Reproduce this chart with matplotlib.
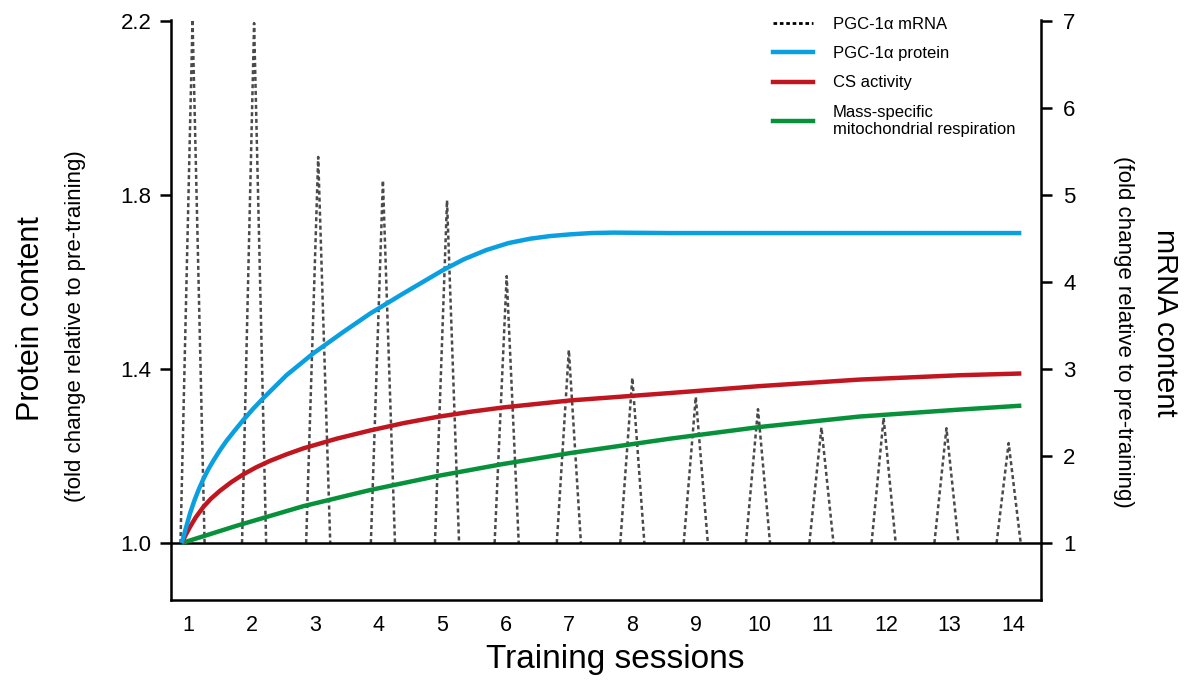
import matplotlib
matplotlib.use("Agg")
import matplotlib.pyplot as plt
from matplotlib.lines import Line2D

plt.rcParams["font.family"] = ["Liberation Sans", "DejaVu Sans"]

# sessions on the x axis
sessions = list(range(1, 15))

# PGC-1a mRNA spikes (right axis, fold change)
mrna_peak_x = [1.07, 2.04, 3.05, 4.07, 5.08, 6.02, 7.0, 8.0, 9.0, 9.98, 10.98, 11.96, 12.95, 13.93]
mrna_peak = [7.02, 6.98, 5.44, 5.17, 4.94, 4.07, 3.22, 2.90, 2.68, 2.54, 2.33, 2.44, 2.32, 2.15]
mrna_half_width = 0.19

# protein curves (left axis, fold change)
protein_x = [0.90, 0.97, 1.03, 1.10, 1.17, 1.24, 1.32, 1.40, 1.50, 1.60, 1.73, 1.87, 2.02,
             2.19, 2.55, 2.97, 3.45, 3.87, 4.39, 5.02, 5.35, 5.70, 6.05, 6.39, 6.70, 7.02,
             7.35, 7.70, 8.59, 14.13]
protein_y = [1.000, 1.037, 1.068, 1.098, 1.124, 1.147, 1.170, 1.190, 1.213, 1.234, 1.258,
             1.283, 1.308, 1.334, 1.386, 1.436, 1.486, 1.528, 1.574, 1.628, 1.653, 1.674,
             1.690, 1.700, 1.706, 1.710, 1.713, 1.714, 1.713, 1.713]

cs_x = [0.90, 0.96, 1.03, 1.12, 1.24, 1.36, 1.50, 1.68, 1.87, 2.07, 2.29, 2.55, 2.82, 3.34,
        3.87, 4.40, 4.92, 5.45, 5.97, 7.02, 8.59, 10.01, 11.58, 13.16, 14.13]
cs_y = [1.000, 1.018, 1.037, 1.059, 1.083, 1.102, 1.120, 1.140, 1.158, 1.174, 1.189, 1.204,
        1.218, 1.240, 1.259, 1.276, 1.290, 1.302, 1.312, 1.328, 1.345, 1.361, 1.376, 1.386, 1.390]

resp_x = [0.90, 1.77, 2.82, 3.87, 4.92, 5.97, 7.02, 8.59, 10.01, 11.58, 13.16, 14.13]
resp_y = [1.000, 1.040, 1.085, 1.122, 1.154, 1.182, 1.207, 1.240, 1.267, 1.291, 1.307, 1.316]

labels = ["PGC-1\u03b1 mRNA", "PGC-1\u03b1 protein", "CS activity",
          "Mass-specific\nmitochondrial respiration"]
blue = "#0a9fe0"
red = "#c1161f"
green = "#08913b"
grey = "#4a4a4a"

fig = plt.figure(figsize=(11.93, 6.83), dpi=100)
ax = fig.add_axes([0.1433, 0.1215, 0.7293, 0.8492])
ax2 = ax.twinx()

# mRNA spikes on right axis
for px, pk in zip(mrna_peak_x, mrna_peak):
    ax2.plot([px - mrna_half_width, px, px + mrna_half_width], [1, pk, 1],
             color=grey, lw=1.8, ls=(0, (1.6, 1.2)), solid_capstyle="butt")

ax.axhline(1.0, color="black", lw=1.8, zorder=1)
ax.plot(resp_x, resp_y, color=green, lw=3.2, solid_capstyle="butt", zorder=3)
ax.plot(cs_x, cs_y, color=red, lw=3.2, solid_capstyle="butt", zorder=3)
ax.plot(protein_x, protein_y, color=blue, lw=3.2, solid_capstyle="butt", zorder=3)

ax.set_zorder(ax2.get_zorder() + 1)
ax.patch.set_visible(False)

ax.set_xlim(0.73, 14.44)
ax.set_ylim(0.869, 2.203)
ax2.set_ylim(0.345, 7.015)

ax.set_xticks(sessions)
ax.set_yticks([1.0, 1.4, 1.8, 2.2])
ax.set_yticklabels(["1.0", "1.4", "1.8", "2.2"])
ax2.set_yticks(range(1, 8))

for a in (ax, ax2):
    a.spines["top"].set_visible(False)
    for s in a.spines.values():
        s.set_linewidth(1.8)
ax.spines["right"].set_visible(False)
ax2.spines["left"].set_visible(False)
ax2.spines["bottom"].set_visible(False)

ax.tick_params(axis="x", length=0, labelsize=15.5, pad=11)
ax.tick_params(axis="y", direction="out", length=8, width=1.8, labelsize=16, pad=6)
ax2.tick_params(axis="y", direction="out", length=8, width=1.8, labelsize=16, pad=8)

fig.text(0.516, 0.034, "Training sessions", ha="center", va="center", fontsize=24)
fig.text(0.026, 0.534, "Protein content", ha="center", va="center", rotation=90, fontsize=22)
fig.text(0.0637, 0.523, "(fold change relative to pre-training)", ha="center", va="center",
         rotation=90, fontsize=16)
fig.text(0.9765, 0.527, "mRNA content", ha="center", va="center", rotation=270, fontsize=21)
fig.text(0.942, 0.514, "(fold change relative to pre-training)", ha="center", va="center",
         rotation=270, fontsize=16)

handles = [
    Line2D([], [], color="black", lw=2, ls=(0, (1.3, 1.0))),
    Line2D([], [], color=blue, lw=3.2),
    Line2D([], [], color=red, lw=3.2),
    Line2D([], [], color=green, lw=3.2),
]
fig.legend(handles, labels, loc="upper left", bbox_to_anchor=(0.635, 0.997),
           frameon=False, fontsize=12, handlelength=2.4, handletextpad=1.2,
           labelspacing=0.85)

fig.savefig("out.png", dpi=100)
